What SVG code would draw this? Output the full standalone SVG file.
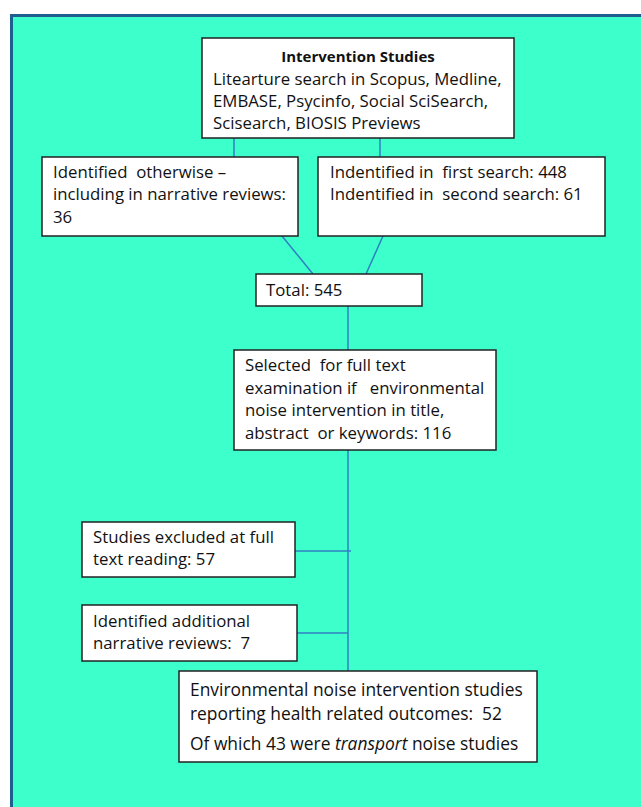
<svg xmlns="http://www.w3.org/2000/svg" width="641" height="807" viewBox="0 0 641 807">
<style>
.box{fill:#fff;stroke:#222;stroke-width:1.5}
.t{font-family:"Open Sans","Liberation Sans",Arial,sans-serif;font-size:16.8px;fill:#111}
.b{font-weight:bold;font-size:15px}
.f{font-size:17.4px}
.c{stroke:#2f7fc1;stroke-width:1.5;fill:none}
</style>
<rect x="11.5" y="15.5" width="640" height="800" fill="#3cffcc" stroke="#1f5f8f" stroke-width="3"/>
<g id="connectors">
<line class="c" x1="234" y1="138" x2="234" y2="157"/>
<line class="c" x1="380" y1="138" x2="380" y2="157"/>
<line class="c" x1="282" y1="236" x2="313" y2="274"/>
<line class="c" x1="383" y1="236" x2="366" y2="274"/>
<line class="c" x1="348" y1="306" x2="348" y2="350"/>
<line class="c" x1="348" y1="450" x2="348" y2="671"/>
<line class="c" x1="295" y1="551" x2="351" y2="551"/>
<line class="c" x1="297" y1="633" x2="348" y2="633"/>
</g>
<g id="n-intervention">
<rect class="box" x="202" y="38" width="312" height="100"/>
<text class="t b" x="358" y="62" text-anchor="middle">Intervention Studies</text>
<text class="t" x="213" y="85">Litearture search in Scopus, Medline,</text>
<text class="t" x="213" y="107">EMBASE, Psycinfo, Social SciSearch,</text>
<text class="t" x="213" y="129">Scisearch, BIOSIS Previews</text>
</g>
<g id="n-otherwise">
<rect class="box" x="42" y="157" width="256" height="79"/>
<text class="t" x="53" y="178" xml:space="preserve">Identified  otherwise –</text>
<text class="t" x="53" y="200">including in narrative reviews:</text>
<text class="t" x="53" y="223">36</text>
</g>
<g id="n-search">
<rect class="box" x="318" y="157" width="287" height="79"/>
<text class="t" x="330" y="178" xml:space="preserve">Indentified in  first search: 448</text>
<text class="t" x="330" y="200" xml:space="preserve">Indentified in  second search: 61</text>
</g>
<g id="n-total">
<rect class="box" x="256" y="274" width="166" height="32"/>
<text class="t" x="266" y="296">Total: 545</text>
</g>
<g id="n-selected">
<rect class="box" x="234" y="350" width="262" height="100"/>
<text class="t" x="245" y="371" xml:space="preserve">Selected  for full text</text>
<text class="t" x="245" y="394" xml:space="preserve">examination if   environmental</text>
<text class="t" x="245" y="416">noise intervention in title,</text>
<text class="t" x="245" y="439" xml:space="preserve">abstract  or keywords: 116</text>
</g>
<g id="n-excluded">
<rect class="box" x="82" y="522" width="213" height="55"/>
<text class="t" x="93" y="543">Studies excluded at full</text>
<text class="t" x="93" y="565">text reading: 57</text>
</g>
<g id="n-additional">
<rect class="box" x="82" y="605" width="215" height="56"/>
<text class="t" x="93" y="627">Identified additional</text>
<text class="t" x="93" y="649" xml:space="preserve">narrative reviews:  7</text>
</g>
<g id="n-final">
<rect class="box" x="179" y="671" width="358" height="91"/>
<text class="t f" x="190" y="696">Environmental noise intervention studies</text>
<text class="t f" x="190" y="720" xml:space="preserve">reporting health related outcomes:  52</text>
<text class="t f" x="190" y="750">Of which 43 were <tspan font-style="italic">transport</tspan> noise studies</text>
</g>
</svg>
